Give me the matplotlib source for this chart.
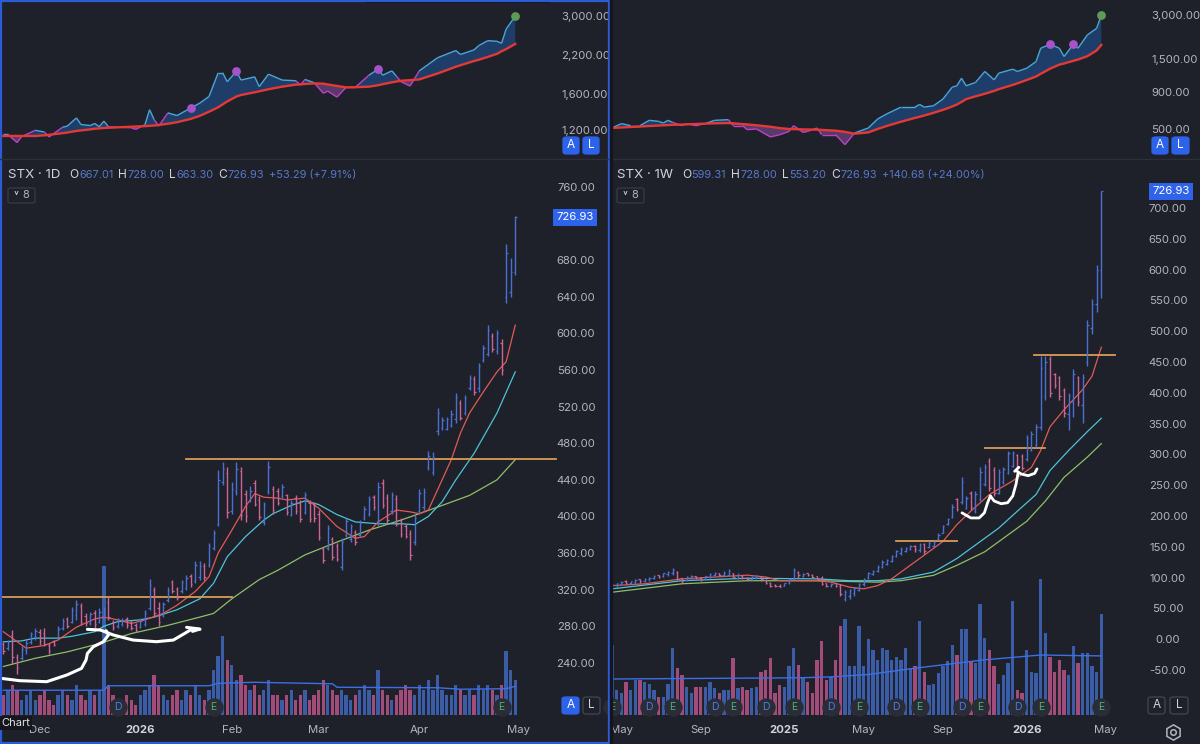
import numpy as np
import matplotlib
matplotlib.use("Agg")
import matplotlib.pyplot as plt
from matplotlib.patches import Rectangle, FancyBboxPatch
from matplotlib.collections import LineCollection
from matplotlib.ticker import NullLocator
from matplotlib.transforms import blended_transform_factory

plt.rcParams["font.family"] = ["Inter", "DejaVu Sans"]

# ---------------- daily (left) ----------------
d_high = [263, 265, 276, 250, 258, 265, 274, 278, 277, 278,
          262, 265, 280, 289, 290, 301, 309, 305, 294, 296,
          298, 300, 301, 312, 287, 289, 289, 290, 287, 283,
          289, 298, 332, 323, 307, 307, 323, 331, 323, 331,
          336, 337, 351, 351, 349, 371, 385, 451, 459, 454,
          438, 460, 454, 429, 433, 440, 422, 416, 461, 433,
          431, 435, 425, 418, 423, 418, 427, 418, 416, 407,
          367, 391, 378, 371, 376, 398, 392, 385, 396, 411,
          422, 423, 438, 441, 425, 427, 423, 398, 392, 385,
          402, 430, 431, 471, 470, 518, 509, 509, 516, 535,
          527, 533, 555, 553, 568, 587, 609, 600, 604, 594,
          698, 682, 728]
d_low = [250, 254, 239, 228, 243, 250, 261, 265, 260, 258,
         250, 258, 267, 276, 278, 283, 287, 281, 280, 281,
         278, 283, 287, 287, 276, 278, 280, 278, 276, 274,
         278, 280, 298, 290, 280, 290, 307, 316, 309, 316,
         320, 323, 327, 331, 331, 345, 363, 389, 434, 398,
         403, 423, 396, 394, 416, 411, 396, 391, 425, 403,
         413, 420, 402, 400, 403, 394, 403, 394, 394, 374,
         349, 363, 352, 351, 341, 378, 372, 369, 378, 396,
         400, 407, 389, 409, 392, 403, 389, 378, 376, 352,
         369, 403, 407, 451, 445, 489, 494, 494, 498, 502,
         505, 511, 538, 533, 536, 569, 575, 580, 578, 555,
         633, 640, 663.3]
d_open = [261, 256, 270, 246, 245, 254, 263, 268, 274, 273,
          260, 264, 268, 278, 288, 285, 292, 302, 291, 284,
          295, 285, 289, 306, 285, 280, 282, 288, 285, 281,
          279, 282, 300, 320, 300, 292, 309, 328, 321, 318,
          322, 335, 329, 334, 346, 347, 366, 392, 438, 448,
          406, 428, 450, 425, 418, 436, 418, 394, 428, 430,
          428, 422, 423, 402, 420, 415, 405, 415, 413, 403,
          364, 366, 375, 368, 345, 380, 375, 383, 380, 398,
          403, 421, 395, 437, 420, 406, 419, 395, 389, 381,
          372, 406, 410, 454, 449, 493, 497, 496, 500, 506,
          524, 513, 540, 550, 540, 571, 578, 597, 581, 590,
          640, 645, 667.01]
d_close = [253, 263, 246, 234, 255, 262, 271, 275, 264, 261,
           253, 259, 277, 286, 280, 298, 304, 285, 283, 293,
           282, 296, 299, 290, 279, 287, 287, 281, 278, 276,
           286, 295, 325, 295, 285, 304, 320, 318, 311, 328,
           333, 326, 347, 346, 334, 368, 382, 440, 452, 405,
           430, 452, 402, 400, 428, 414, 399, 412, 454, 407,
           415, 432, 405, 415, 406, 397, 423, 397, 398, 378,
           352, 387, 356, 354, 372, 395, 389, 372, 393, 408,
           419, 410, 432, 413, 396, 423, 392, 381, 379, 358,
           398, 426, 427, 466, 465, 513, 505, 506, 512, 530,
           508, 529, 551, 536, 564, 584, 604, 583, 600, 560,
           688, 667, 726.93]
d_volume = [4, 5, 6, 5, 3, 4, 5, 3, 4, 5,
            3, 2, 4, 5, 4, 3, 6, 4, 3, 5,
            4, 5, 30, 6, 4, 3, 3, 4, 3, 2,
            4, 5, 6, 8, 6, 4, 3, 4, 5, 3,
            5, 4, 6, 4, 3, 5, 9, 12, 16, 11,
            10, 7, 8, 6, 5, 6, 4, 5, 7, 4,
            4, 3, 4, 5, 3, 4, 5, 3, 4, 5,
            7, 6, 5, 4, 5, 4, 3, 4, 5, 6,
            5, 4, 9, 5, 4, 3, 4, 5, 6, 5,
            4, 6, 5, 7, 5, 8, 5, 4, 4, 6,
            5, 4, 5, 4, 6, 5, 6, 5, 4, 6,
            13, 9, 7]

d_fast_idx = [0, 5, 9, 12, 16, 20, 22, 25, 28, 31, 35, 38, 42, 45, 47, 50, 53, 55, 57, 60,
              62, 66, 69, 73, 77, 79, 82, 86, 89, 91, 93, 95, 98, 100, 102, 105, 108, 110, 112]
d_fast = [274, 256, 259, 265, 279, 288, 290, 287, 283, 287, 294, 303, 318, 334, 360, 385, 411, 425, 421, 420,
          418, 420, 409, 389, 376, 378, 394, 407, 405, 403, 407, 429, 462, 491, 513, 536, 558, 569, 609]
d_mid_idx = [0, 4, 7, 12, 15, 20, 22, 25, 30, 33, 38, 43, 46, 49, 53, 57, 59, 63, 66, 69,
             73, 77, 82, 87, 90, 93, 96, 99, 103, 108, 112]
d_mid = [263, 264, 267, 267, 269, 274, 280, 285, 287, 290, 298, 310, 327, 356, 378, 396, 403, 412, 417, 413,
         402, 394, 392, 392, 391, 400, 416, 440, 469, 513, 558]
d_slow_idx = [0, 7, 14, 21, 28, 36, 43, 46, 50, 56, 58, 60, 66, 73, 80, 87, 91, 96, 102, 108, 112]
d_slow = [236, 245, 252, 261, 272, 281, 290, 294, 310, 331, 336, 341, 358, 372, 385, 396, 403, 412, 423, 440, 462]
d_volma_idx = [0, 22, 23, 45, 47, 55, 72, 73, 95, 100, 110, 112]
d_volma = [5.0, 5.0, 5.9, 5.9, 6.4, 6.6, 6.3, 5.6, 5.5, 5.2, 5.3, 5.8]

# relative-strength style panel (left)
d_rs_idx = [0, 1, 3, 4, 7, 9, 10, 13, 14, 16, 17, 19, 20, 21, 22, 23, 28, 29, 31, 32,
            33, 34, 36, 38, 41, 43, 45, 47, 48, 49, 51, 52, 55, 56, 58, 61, 64, 65, 66, 68,
            70, 71, 73, 75, 77, 80, 82, 83, 85, 86, 87, 89, 91, 95, 99, 100, 103, 104, 106, 108,
            109, 110, 112]
d_rs = [1159, 1159, 1085, 1138, 1197, 1181, 1135, 1228, 1238, 1323, 1254, 1244, 1265, 1232, 1289, 1232,
        1222, 1206, 1254, 1413, 1305, 1238, 1377, 1348, 1432, 1490, 1571, 1899, 1899, 1769, 1925, 1793,
        1840, 1701, 1880, 1793, 1783, 1722, 1802, 1755, 1613, 1640, 1563, 1691, 1691, 1865, 1956, 1865,
        1930, 1850, 1769, 1709, 1930, 2145, 2273, 2202, 2286, 2365, 2461, 2448, 2409, 2699, 3000]
d_rs_ma = [1144, 1144, 1144, 1144, 1144, 1150, 1155, 1170, 1176, 1191, 1196, 1206, 1212, 1216, 1220, 1222,
           1232, 1234, 1238, 1241, 1244, 1250, 1262, 1278, 1312, 1345, 1390, 1440, 1475, 1510, 1571, 1590,
           1625, 1638, 1665, 1700, 1728, 1732, 1737, 1746, 1742, 1730, 1710, 1691, 1693, 1700, 1720, 1735,
           1760, 1772, 1783, 1792, 1802, 1890, 1995, 2019, 2090, 2110, 2160, 2214, 2260, 2300, 2397]
d_rs_dots_idx = [41, 51, 82]
d_rs_dots = [1432, 1925, 1956]

# ---------------- weekly (right) ----------------
w_high = [90, 92, 94, 96, 95, 97, 98, 99, 101, 104,
          105, 108, 110, 115, 110, 100, 102, 104, 103, 101,
          103, 107, 109, 108, 110, 114, 108, 107, 104, 101,
          102, 104, 102, 97, 93, 90, 89, 92, 100, 115,
          110, 108, 108, 106, 103, 102, 92, 91, 92, 90,
          80, 82, 85, 92, 100, 109, 113, 120, 128, 131,
          137, 145, 150, 150, 153, 153, 156, 156, 159, 159,
          172, 186, 197, 219, 230, 263, 233, 241, 241, 279,
          285, 295, 279, 277, 279, 306, 306, 301, 301, 331,
          338, 350, 460, 460, 460, 433, 427, 408, 400, 438,
          427, 430, 518, 553, 608, 728]
w_low = [82, 85, 88, 90, 89, 90, 92, 93, 95, 98,
         100, 101, 103, 104, 96, 92, 95, 98, 97, 94,
         96, 100, 103, 102, 103, 102, 99, 98, 98, 95,
         96, 98, 95, 90, 85, 85, 84, 86, 90, 97,
         100, 101, 102, 100, 97, 88, 84, 85, 85, 70,
         62, 66, 70, 79, 87, 98, 104, 109, 115, 120,
         125, 133, 137, 142, 145, 142, 142, 139, 148, 150,
         161, 172, 186, 197, 208, 219, 211, 210, 205, 224,
         249, 241, 233, 235, 252, 268, 279, 268, 274, 290,
         305, 312, 340, 389, 394, 408, 389, 361, 340, 361,
         378, 351, 444, 496, 531, 553.2]
w_open = [83, 88, 90, 95, 91, 93, 97, 94, 97, 99,
          104, 102, 106, 107, 109, 99, 96, 100, 102, 99,
          97, 101, 105, 107, 104, 105, 107, 100, 103, 100,
          97, 100, 101, 96, 92, 88, 87, 86, 91, 98,
          109, 103, 107, 105, 102, 99, 91, 86, 91, 87,
          66, 70, 75, 80, 89, 99, 106, 110, 117, 122,
          127, 135, 140, 143, 146, 152, 145, 154, 149, 151,
          162, 173, 187, 198, 228, 222, 213, 238, 208, 228,
          252, 290, 274, 238, 255, 270, 281, 299, 298, 292,
          307, 316, 345, 395, 455, 430, 425, 405, 365, 385,
          425, 380, 450, 505, 545, 599.31]
w_close = [89, 91, 93, 92, 94, 96, 94, 98, 100, 103,
           101, 107, 109, 112, 98, 95, 101, 103, 99, 96,
           102, 106, 108, 104, 108, 111, 101, 105, 99, 97,
           101, 103, 97, 92, 87, 86, 85, 91, 98, 112,
           104, 106, 104, 101, 98, 90, 86, 90, 86, 74,
           77, 80, 83, 90, 98, 107, 111, 118, 126, 129,
           135, 143, 147, 148, 151, 146, 154, 143, 157, 158,
           170, 184, 195, 215, 212, 255, 230, 214, 236, 272,
           280, 246, 238, 272, 276, 302, 303, 272, 278, 326,
           333, 345, 440, 450, 400, 412, 395, 368, 395, 430,
           385, 425, 510, 545, 599.31, 726.93]
w_volume = [23.5, 8.3, 7.2, 11.1, 8.3, 11.7, 11.7, 11.1, 10.5, 8.3,
            6, 6, 10.5, 22.4, 15.6, 13.3, 9.4, 7.2, 9.4, 9.4,
            9.4, 11.1, 8.9, 7.2, 8.3, 8.3, 19, 8.9, 9.4, 8.3,
            8.9, 9.4, 14.5, 15, 19, 7.2, 10, 9.4, 16.2, 22.4,
            16.7, 12.8, 11.1, 7.2, 18.4, 24.6, 11.7, 12.8, 18.4, 29.7,
            31.9, 16.2, 16.2, 29.7, 16.2, 25.2, 21.8, 18.4, 22.4, 21.8,
            18.4, 19.5, 18.4, 22.4, 15.6, 16.2, 31.4, 14.5, 10, 10.5,
            13.9, 16.2, 17.9, 23.5, 20.1, 28.6, 28.6, 17.9, 17.3, 37,
            25.7, 21.8, 16.2, 10.5, 13.3, 17.3, 38.1, 8.3, 7.2, 21.8,
            14.5, 13.9, 45.5, 27.4, 19.5, 14.5, 18.4, 15, 13.3, 22.9,
            17.3, 20.7, 20.7, 16.2, 14.5, 33.6]

w_fast_idx = [0, 7, 15, 22, 29, 33, 36, 44, 47, 51, 54, 57, 60, 64, 68, 71, 74, 77, 81, 86,
              90, 92, 94, 97, 101, 103, 105]
w_fast = [87, 90, 98, 101, 104, 101, 95, 95, 92.7, 84.5, 81.8, 87, 98, 120, 142, 158.6, 186, 208, 235, 257,
          279, 306.6, 345, 372.5, 405.4, 427, 474]
w_mid_idx = [0, 15, 29, 44, 51, 57, 62, 69, 74, 78, 83, 87, 91, 94, 98, 102, 105]
w_mid = [81.8, 95, 99, 98, 95, 95, 98, 109, 131, 153, 180.5, 208, 235, 274, 306.6, 337, 358.7]
w_slow_idx = [0, 15, 29, 44, 57, 62, 69, 74, 80, 84, 89, 93, 97, 102, 105]
w_slow = [76.3, 90, 95, 95, 92.7, 95, 103.7, 120, 142, 164, 191.5, 224.4, 262.8, 295.7, 317.6]
w_volma_idx = [0, 20, 40, 47, 55, 65, 80, 92, 100, 105]
w_volma = [12, 12.2, 12.4, 12.7, 13.5, 15.6, 18.4, 20, 19.8, 19.7]

w_rs_idx = [0, 2, 4, 6, 8, 10, 11, 12, 13, 15, 16, 18, 20, 22, 25, 26, 28, 29, 31, 34,
            36, 38, 39, 41, 42, 44, 45, 48, 50, 51, 52, 55, 57, 59, 62, 65, 66, 67, 69, 71,
            72, 73, 74, 75, 76, 78, 80, 82, 83, 86, 87, 89, 91, 92, 94, 96, 97, 99, 100, 102,
            104, 105]
w_rs = [508, 544, 527, 527, 573, 564, 549, 573, 555, 527, 544, 527, 544, 573, 579, 527, 527, 495, 500, 441,
        457, 482, 527, 474, 482, 508, 457, 457, 391, 427, 469, 508, 585, 635, 705, 705, 736, 705, 721, 800,
        878, 965, 986, 1111, 986, 1039, 1235, 1083, 1203, 1280, 1235, 1300, 1444, 1780, 1894, 1780, 1562,
        1894, 1780, 2193, 2434, 3000]
w_rs_ma = [508, 512, 516, 520, 524, 528, 530, 532, 534, 536, 538, 541, 544, 547, 549, 547, 540, 537, 530, 518,
           507, 500, 499, 497, 496, 495, 493, 487, 478, 471, 464, 474, 500, 525, 560, 595, 606, 618, 645, 675,
           693, 712, 735, 765, 800, 835, 870, 910, 935, 1000, 1025, 1080, 1141, 1190, 1290, 1375, 1400, 1460,
           1490, 1570, 1720, 1875]
w_rs_dots_idx = [94, 99]
w_rs_dots = [1894, 1894]

# levels and hand drawn marks (bar index, price)
d_levels = [(312, -1, 50), (462.5, 40, 121)]
w_levels = [(160, 61, 74), (310.5, 80, 93), (462, 90.5, 108)]
d_sketches = [
    ([-0.4, 3.6, 9.5, 13.9, 17.1, 18.1, 18.4, 19.7, 21.9, 23.0, 22.5],
     [223, 220.5, 219.4, 226.7, 233.9, 243.1, 250.3, 257.6, 263.1, 270.4, 275.1]),
    ([18.4, 21.2, 24.1, 28.4, 33.5, 37.2, 39.7, 41.4, 43.0],
     [276.6, 275.9, 270.4, 264.9, 263.1, 264.9, 272.2, 277.3, 276.6]),
    ([40.1, 43.0, 41.4], [278.8, 276.9, 274.4]),
]
w_sketches = [
    ([75.1, 77.0, 78.8, 79.9, 80.6, 81.2], [205.2, 196.9, 196.9, 205.2, 221.6, 232.6]),
    ([81.2, 82.0, 83.5, 84.9, 86.0, 86.7, 87.1], [232.6, 224.4, 220.0, 221.6, 232.6, 251.8, 268.3]),
    ([86.7, 87.8, 89.3, 90.7, 91.2], [273.7, 268.3, 265.5, 269.3, 276.5]),
    ([86.4, 87.3], [272.6, 279.2]),
]

d_ticks = [240, 280, 320, 360, 400, 440, 480, 520, 560, 600, 640, 680, 760]
w_ticks = [-50, 0, 50, 100, 150, 200, 250, 300, 350, 400, 450, 500, 550, 600, 650, 700]
d_rs_ticks = [1200, 1600, 2200, 3000]
w_rs_ticks = [500, 900, 1500, 3000]
d_xpos = [8, 30, 50, 69, 91, 112.6]
d_xlab = ["Dec", "2026", "Feb", "Mar", "Apr", "May"]
w_xpos = [2, 19, 37, 54, 71, 89, 106]
w_xlab = ["May", "Sep", "2025", "May", "Sep", "2026", "May"]
d_events = [(25, "D"), (46, "E"), (109, "E")]
w_events = [(0, "E"), (8, "D"), (13, "E"), (22, "D"), (26, "E"), (33, "D"), (39, "E"), (47, "D"),
            (53, "E"), (61, "D"), (66, "E"), (75, "D"), (79, "E"), (87, "D"), (92, "E"), (105, "E")]

d_legend = [("STX · 1D", "name"), ("O", "key"), ("667.01", "val"), ("H", "key"), ("728.00", "val"),
            ("L", "key"), ("663.30", "val"), ("C", "key"), ("726.93", "val"), ("+53.29 (+7.91%)", "val")]
w_legend = [("STX · 1W", "name"), ("O", "key"), ("599.31", "val"), ("H", "key"), ("728.00", "val"),
            ("L", "key"), ("553.20", "val"), ("C", "key"), ("726.93", "val"), ("+140.68 (+24.00%)", "val")]

# ---------------- style ----------------
W, H = 1200, 744
BG = "#1e2129"
TXT = "#b2b5be"
UP, DN = "#4a70d2", "#cc6496"
VUP, VDN = "#3b5ca6", "#a24c7a"
RED, CYAN, GREEN = "#e25a55", "#4cc3d8", "#8fbf67"
ORANGE = "#d89c57"
VAL = "#5a78c9"


def rect(x0, y0, x1, y1):
    return [x0 / W, 1 - y1 / H, (x1 - x0) / W, (y1 - y0) / H]


def clean(ax):
    for s in ax.spines.values():
        s.set_visible(False)
    ax.set_facecolor(BG)


def ohlc(ax, hi, lo, op, cl):
    hi, lo, op, cl = map(np.asarray, (hi, lo, op, cl))
    x = np.arange(len(hi))
    col = np.where(cl >= op, UP, DN)
    ax.vlines(x, lo, hi, colors=col, lw=1.0, zorder=3)
    ax.hlines(op, x - 0.32, x, colors=col, lw=0.9, zorder=3)
    ax.hlines(cl, x, x + 0.32, colors=col, lw=0.9, zorder=3)


def volume(ax, vol, op, cl, idx, ma):
    x = np.arange(len(vol))
    col = np.where(np.asarray(cl) >= np.asarray(op), VUP, VDN)
    ax.bar(x, vol, width=0.72, color=col, lw=0)
    ax.plot(idx, ma, color="#3d6fe6", lw=1.0)
    ax.set_xticks([])
    ax.set_yticks([])


def price_axis(ax, ticks, right_px, label_px, ha, fmt="{:,.2f}", size=8.2):
    ax.yaxis.tick_right()
    ax.set_yticks(ticks)
    ax.set_yticklabels([fmt.format(t) for t in ticks])
    ax.yaxis.set_minor_locator(NullLocator())
    ax.tick_params(axis="y", length=0, pad=(label_px - right_px) * 0.72, labelsize=size, labelcolor=TXT)
    for lbl in ax.get_yticklabels():
        lbl.set_horizontalalignment(ha)


def time_axis(ax, pos, labels):
    ax.set_xticks(pos)
    ax.set_xticklabels(labels)
    ax.tick_params(axis="x", length=0, pad=7.5, labelsize=8.2, labelcolor=TXT)
    for lbl in ax.get_xticklabels():
        if lbl.get_text().isdigit():
            lbl.set_fontweight("bold")
            lbl.set_color("#d1d4dc")


def rs_panel(ax, idx, rs, ma, dots_idx, dots, dot_last):
    idx, rs, ma = map(np.asarray, (idx, rs, ma))
    ax.fill_between(idx, rs, ma, where=rs >= ma, interpolate=True, color="#1f3d69", lw=0)
    ax.fill_between(idx, rs, ma, where=rs < ma, interpolate=True, color="#573a68", lw=0)
    segs, cols = [], []
    for k in range(len(idx) - 1):
        segs.append([(idx[k], rs[k]), (idx[k + 1], rs[k + 1])])
        below = rs[k] < ma[k] or rs[k + 1] < ma[k + 1]
        cols.append("#c040c8" if below else "#4aa6d6")
    ax.add_collection(LineCollection(segs, colors=cols, lw=1.0, zorder=3))
    ax.plot(idx, ma, color="#e53935", lw=1.7, zorder=4)
    ax.scatter(dots_idx, dots, s=40, color="#a652c8", zorder=5, lw=0)
    ax.scatter([idx[-1]], [rs[-1]], s=40, color=dot_last, zorder=5, lw=0)
    ax.set_yscale("log")
    ax.set_xticks([])


def events(ax, ev):
    tr = blended_transform_factory(ax.transData, ax.transAxes)
    for i, t in ev:
        ax.scatter([i], [0.0144], s=175, color="#2a2d35", transform=tr, zorder=6, lw=0, clip_on=False)
        ax.text(i, 0.0144, t, transform=tr, ha="center", va="center", fontsize=7.5,
                color="#4b7bec" if t == "D" else "#4caf7a", zorder=7, clip_on=False)


def button(fig, x0, y0, x1, y1, txt, filled):
    fc = "#2d62ea" if filled else BG
    ec = "#2d62ea" if filled else "#434651"
    p = FancyBboxPatch((x0 / W, 1 - y1 / H), (x1 - x0) / W, (y1 - y0) / H,
                       boxstyle="round,pad=0,rounding_size=0.003", transform=fig.transFigure,
                       fc=fc, ec=ec, lw=0.9)
    fig.patches.append(p)
    fig.text((x0 + x1) / 2 / W, 1 - (y0 + y1) / 2 / H, txt, ha="center", va="center",
             fontsize=8.5, color="white" if filled else "#d1d4dc")


def legend_line(fig, x, y, parts):
    # lay the legend pieces side by side, measuring each one
    renderer = fig.canvas.get_renderer()
    gaps = {"name": 9, "key": 0.5, "val": 5}
    sizes = {"name": 9.6, "key": 8.6, "val": 7.9}
    colors = {"name": "#d1d4dc", "key": "#d1d4dc", "val": VAL}
    for s, kind in parts:
        t = fig.text(x / W, 1 - y / H, s, ha="left", va="center",
                     fontsize=sizes[kind], color=colors[kind])
        x += t.get_window_extent(renderer=renderer).width + gaps[kind]


fig = plt.figure(figsize=(12, 7.44), dpi=100, facecolor=BG)

# ---- left panel ----
ax_lt = fig.add_axes(rect(0, 0, 550, 157))
clean(ax_lt)
rs_panel(ax_lt, d_rs_idx, d_rs, d_rs_ma, d_rs_dots_idx, d_rs_dots, "#5e9a57")
ax_lt.set_xlim(-0.72, 119.6)
ax_lt.set_ylim(966, 3412)
price_axis(ax_lt, d_rs_ticks, 550, 561, "left")

ax_lv = fig.add_axes(rect(0, 160, 550, 715))
clean(ax_lv)
volume(ax_lv, d_volume, d_open, d_close, d_volma_idx, d_volma)
ax_lv.set_xlim(-0.72, 119.6)
ax_lv.set_ylim(0, 112)

ax_l = fig.add_axes(rect(0, 160, 550, 715))
for s in ax_l.spines.values():
    s.set_visible(False)
ax_l.set_facecolor("none")
ohlc(ax_l, d_high, d_low, d_open, d_close)
ax_l.plot(d_slow_idx, d_slow, color=GREEN, lw=0.9, zorder=2)
ax_l.plot(d_mid_idx, d_mid, color=CYAN, lw=0.9, zorder=2)
ax_l.plot(d_fast_idx, d_fast, color=RED, lw=0.9, zorder=2)
for lvl, a, b in d_levels:
    ax_l.plot([a, b], [lvl, lvl], color=ORANGE, lw=1.3, zorder=2, clip_on=False)
for sx, sy in d_sketches:
    ax_l.plot(sx, sy, color="white", lw=2.2, solid_capstyle="round", solid_joinstyle="round", zorder=5)
ax_l.set_xlim(-0.72, 119.6)
ax_l.set_ylim(183, 789.5)
price_axis(ax_l, d_ticks, 550, 576, "center")
time_axis(ax_l, d_xpos, d_xlab)
events(ax_l, d_events)
ax_l.text(1.045, d_close[-1], "{:.2f}".format(d_close[-1]),
          transform=blended_transform_factory(ax_l.transAxes, ax_l.transData),
          ha="center", va="center", fontsize=8.2, color="white", zorder=8, clip_on=False,
          bbox=dict(boxstyle="square,pad=0.3", fc="#2f64ea", ec="none"))

# ---- right panel ----
ax_rt = fig.add_axes(rect(611, 0, 1137, 157))
clean(ax_rt)
rs_panel(ax_rt, w_rs_idx, w_rs, w_rs_ma, w_rs_dots_idx, w_rs_dots, "#5e9a57")
ax_rt.set_xlim(-0.215, 112.66)
ax_rt.set_ylim(322, 3798)
price_axis(ax_rt, w_rs_ticks, 1137, 1151, "left")

ax_rv = fig.add_axes(rect(611, 160, 1137, 715))
clean(ax_rv)
volume(ax_rv, w_volume, w_open, w_close, w_volma_idx, w_volma)
ax_rv.set_xlim(-0.215, 112.66)
ax_rv.set_ylim(0, 185)

ax_r = fig.add_axes(rect(611, 160, 1137, 715))
for s in ax_r.spines.values():
    s.set_visible(False)
ax_r.set_facecolor("none")
ohlc(ax_r, w_high, w_low, w_open, w_close)
ax_r.plot(w_slow_idx, w_slow, color=GREEN, lw=0.9, zorder=2)
ax_r.plot(w_mid_idx, w_mid, color=CYAN, lw=0.9, zorder=2)
ax_r.plot(w_fast_idx, w_fast, color=RED, lw=0.9, zorder=2)
for lvl, a, b in w_levels:
    ax_r.plot([a, b], [lvl, lvl], color=ORANGE, lw=1.3, zorder=2)
for sx, sy in w_sketches:
    ax_r.plot(sx, sy, color="white", lw=2.0, solid_capstyle="round", solid_joinstyle="round", zorder=5)
ax_r.set_xlim(-0.215, 112.66)
ax_r.set_ylim(-123, 778)
price_axis(ax_r, w_ticks, 1137, 1168, "center")
time_axis(ax_r, w_xpos, w_xlab)
events(ax_r, w_events)
ax_r.text(1.065, w_close[-1], "{:.2f}".format(w_close[-1]),
          transform=blended_transform_factory(ax_r.transAxes, ax_r.transData),
          ha="center", va="center", fontsize=8.2, color="white", zorder=8, clip_on=False,
          bbox=dict(boxstyle="square,pad=0.3", fc="#2f64ea", ec="none"))

# ---- chrome: headers, separators, buttons ----
for x0, x1 in [(0, 608), (612, 1200)]:
    fig.add_artist(plt.Line2D([x0 / W, x1 / W], [1 - 159 / H] * 2, color="#2c303b", lw=1.0))
fig.add_artist(plt.Line2D([610.5 / W] * 2, [0, 1], color="#14161c", lw=2.5))
fig.patches.append(Rectangle((366 / W, 1 - 3 / H), 184 / W, 3 / H, transform=fig.transFigure,
                             fc="#121418", ec="none"))

legend_line(fig, 8, 175, d_legend)
legend_line(fig, 617, 175, w_legend)

for x0 in (8, 617):
    fig.patches.append(FancyBboxPatch((x0 / W, 1 - 203 / H), 27 / W, 15 / H,
                                      boxstyle="round,pad=0,rounding_size=0.002", transform=fig.transFigure,
                                      fc=BG, ec="#3a3e4a", lw=0.8))
    fig.text((x0 + 8) / W, 1 - 195 / H, "˅", ha="center", va="center", fontsize=8, color="#d1d4dc")
    fig.text((x0 + 18) / W, 1 - 195.5 / H, "8", ha="center", va="center", fontsize=8, color="#b2b5be")

button(fig, 563, 137, 579, 154, "A", True)
button(fig, 583, 137, 599, 154, "L", True)
button(fig, 1152, 137, 1168, 154, "A", True)
button(fig, 1172, 137, 1189, 154, "L", True)
button(fig, 562, 697, 579, 714, "A", True)
button(fig, 583, 697, 600, 714, "L", False)
button(fig, 1148, 697, 1165, 714, "A", False)
button(fig, 1170, 697, 1188, 714, "L", False)

fig.text(1 / W, 1 - 723 / H, "Chart", ha="left", va="center", fontsize=8, color="#e0e3eb",
         bbox=dict(boxstyle="square,pad=0.2", fc="#15171c", ec="none"))
fig.add_artist(plt.Line2D([1173 / W], [1 - 732 / H], marker="h", ms=11, mfc="none", mec=TXT, mew=1.1))
fig.add_artist(plt.Line2D([1173 / W], [1 - 732 / H], marker="o", ms=4, mfc="none", mec=TXT, mew=1.1))

fig.patches.append(Rectangle((0.8 / W, 0.8 / H), 608 / W, 742.4 / H, transform=fig.transFigure,
                             fc="none", ec="#2b5bd7", lw=1.6))

fig.savefig("out.png", dpi=100, facecolor=BG)
